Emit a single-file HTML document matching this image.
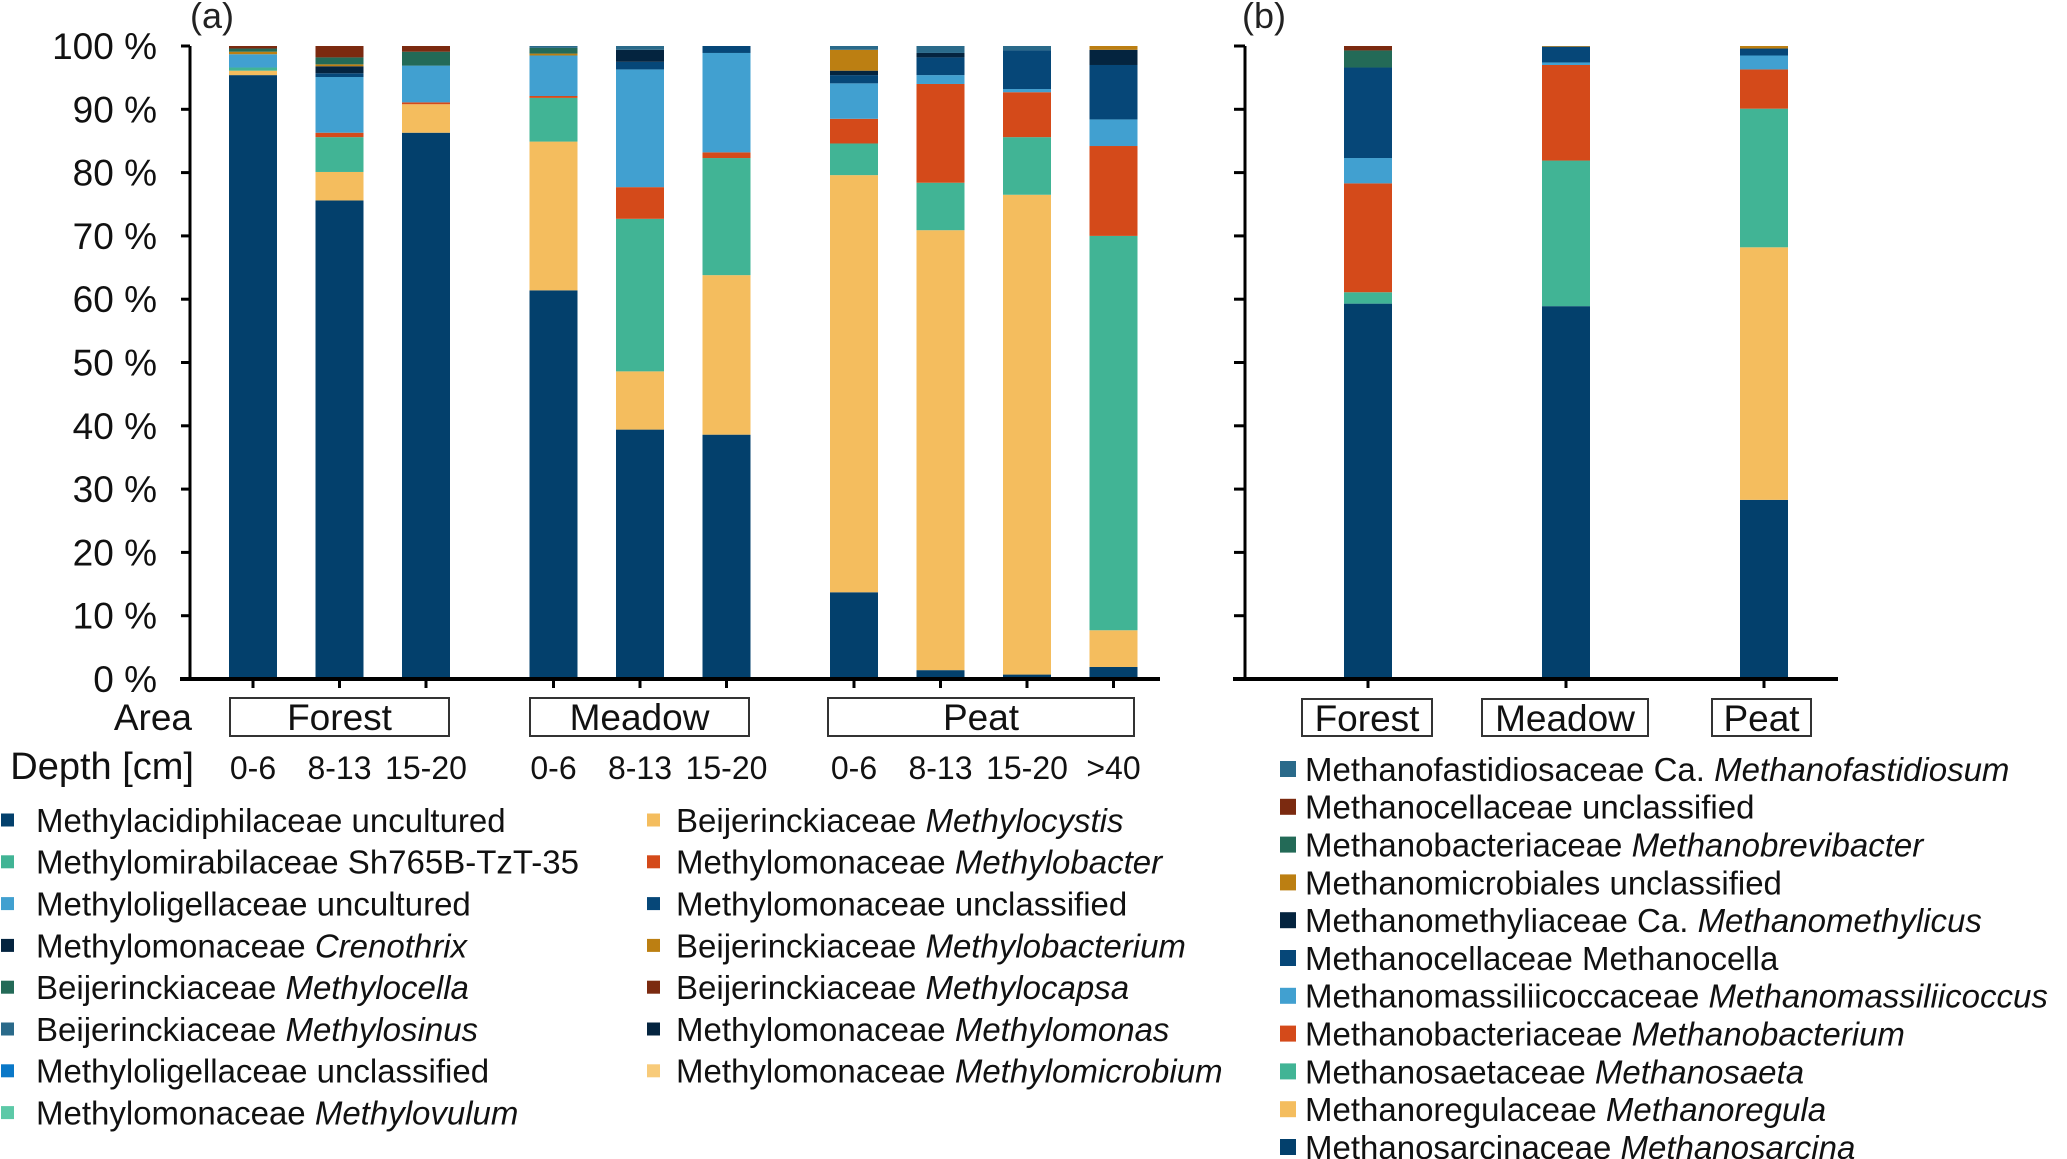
<!DOCTYPE html>
<html><head><meta charset="utf-8"><style>
html,body{margin:0;padding:0;background:#fff;}
svg{display:block;font-family:"Liberation Sans",Arial,sans-serif;}
</style></head><body>
<svg id="chart" width="2067" height="1159" viewBox="0 0 2067 1159">
<g id="ga"></g>
<g id="gb"></g>
<g id="lg"></g>
</svg>
<script>
const NS="http://www.w3.org/2000/svg";
// Panel A data
const aSamples=["F 0-6","F 8-13","F 15-20","M 0-6","M 8-13","M 15-20","P 0-6","P 8-13","P 15-20","P >40"];
const aDepths=["0-6","8-13","15-20","0-6","8-13","15-20","0-6","8-13","15-20",">40"];
const aColors=["#03406C","#F4BD5E","#41B495","#D44A1A","#41A0D0","#064778","#04243F","#BC7F12","#236A57","#7B2A10","#2A6A8A"];
const aS1=[95.4,75.6,86.3,61.4,39.4,38.6,13.7,1.4,0.7,1.9];
const aS2=[0.7,4.5,4.5,23.5,9.2,25.2,65.9,69.5,75.8,5.8];
const aS3=[0.5,5.5,0,6.9,24.1,18.5,5.0,7.5,9.1,62.3];
const aS4=[0,0.7,0.3,0.3,5.0,0.9,3.9,15.6,7.1,14.2];
const aS5=[2.1,8.8,5.8,6.4,18.6,15.7,5.6,1.4,0.5,4.2];
const aS6=[0,0.6,0,0,1.2,1.1,1.3,2.8,6.1,8.6];
const aS7=[0,1.1,0,0,1.9,0,0.7,0.7,0,2.4];
const aS8=[0.4,0.3,0,0.3,0,0,3.3,0,0,0.6];
const aS9=[0.5,1.1,2.2,0.9,0,0,0,0,0,0];
const aS10=[0.4,1.8,0.9,0,0,0,0,0,0,0];
const aS11=[0,0,0,0.3,0.6,0,0.6,1.1,0.7,0];
const aSeries=[aS1,aS2,aS3,aS4,aS5,aS6,aS7,aS8,aS9,aS10,aS11];
const aGroupIdx=[0,0,0,1,1,1,2,2,2,2];
// Panel B data
const bSamples=["Forest","Meadow","Peat"];
const bColors=["#03406C","#F4BD5E","#41B495","#D44A1A","#41A0D0","#064778","#04243F","#BC7F12","#236A57","#7B2A10","#2A6A8A"];
const bT1=[59.3,58.9,28.3];
const bT2=[0,0,39.9];
const bT3=[1.8,23.0,21.9];
const bT4=[17.2,15.1,6.2];
const bT5=[4.0,0.4,2.2];
const bT6=[14.3,2.5,1.1];
const bT7=[0,0,0];
const bT8=[0,0.1,0.4];
const bT9=[2.7,0,0];
const bT10=[0.7,0,0];
const bT11=[0,0,0];
const bSeries=[bT1,bT2,bT3,bT4,bT5,bT6,bT7,bT8,bT9,bT10,bT11];
const yTicks=[0,10,20,30,40,50,60,70,80,90,100];

const Y0=679,Y100=46;
function yS(v){return Y0-(Y0-Y100)*v/100;}
function el(tag,attrs,parent,txt){const e=document.createElementNS(NS,tag);for(const k in attrs)e.setAttribute(k,attrs[k]);if(txt!=null)e.textContent=txt;parent.appendChild(e);return e;}
const ga=document.getElementById('ga'),gb=document.getElementById('gb'),lg=document.getElementById('lg');

const aStart=253,aStep=86.5,aGap=41;
function xA(i){return aStart+i*aStep+aGroupIdx[i]*aGap;}
const bx0=1368,bStep=198;
function xB(i){return bx0+i*bStep;}
const BW=48;

function drawStacks(g,series,colors,n,xf,nm){
  for(let i=0;i<n;i++){
    let cum=0;
    for(let s=0;s<series.length;s++){
      const v=series[s][i]; if(!v)continue;
      const r=el('rect',{x:xf(i)-BW/2,y:yS(cum+v),width:BW,height:yS(cum)-yS(cum+v),fill:colors[s]},g);
      
      
      cum+=v;
    }
  }
}
drawStacks(ga,aSeries,aColors,aSamples.length,xA,'a');
drawStacks(gb,bSeries,bColors,bSamples.length,xB,'b');

// Axes A
el('line',{x1:190,y1:Y100,x2:190,y2:Y0+1,stroke:'#000','stroke-width':3},ga);
el('line',{x1:180,y1:Y0,x2:1160,y2:Y0,stroke:'#000','stroke-width':4},ga);
yTicks.forEach(t=>{
  el('line',{x1:181,y1:yS(t),x2:190,y2:yS(t),stroke:'#000','stroke-width':3},ga);
  const tx=el('text',{x:157,y:yS(t)+13,'font-size':37,'text-anchor':'end',fill:'#111'},ga,t+' %');
  
  
});
for(let i=0;i<aSamples.length;i++){
  el('line',{x1:xA(i),y1:Y0,x2:xA(i),y2:Y0+9,stroke:'#000','stroke-width':3},ga);
  const d=el('text',{x:xA(i),y:779,'font-size':32,'text-anchor':'middle',fill:'#111'},ga,aDepths[i]);
  
  
}
el('text',{x:190,y:28,'font-size':36,fill:'#222'},ga,'(a)');
el('text',{x:192,y:730,'font-size':37,'text-anchor':'end',fill:'#111'},ga,'Area');
el('text',{x:194,y:779,'font-size':38,'text-anchor':'end',fill:'#111'},ga,'Depth [cm]');
const aBoxes=[["Forest",230,449],["Meadow",530,749],["Peat",828,1134]];
aBoxes.forEach(b=>{
  el('rect',{x:b[1],y:698,width:b[2]-b[1],height:38,fill:'#fff',stroke:'#333','stroke-width':2},ga);
  el('text',{x:(b[1]+b[2])/2,y:730,'font-size':37,'text-anchor':'middle',fill:'#111'},ga,b[0]);
});

// Axes B
el('line',{x1:1245,y1:Y100,x2:1245,y2:Y0+1,stroke:'#000','stroke-width':3},gb);
el('line',{x1:1233,y1:Y0,x2:1838,y2:Y0,stroke:'#000','stroke-width':4},gb);
yTicks.forEach(t=>{el('line',{x1:1234,y1:yS(t),x2:1245,y2:yS(t),stroke:'#000','stroke-width':3},gb);});
const bBoxes=[[1302,1432],[1482,1648],[1712,1811]];
for(let i=0;i<bSamples.length;i++){
  el('line',{x1:xB(i),y1:Y0,x2:xB(i),y2:Y0+9,stroke:'#000','stroke-width':3},gb);
  el('rect',{x:bBoxes[i][0],y:699,width:bBoxes[i][1]-bBoxes[i][0],height:37,fill:'#fff',stroke:'#333','stroke-width':2},gb);
  const t=el('text',{x:(bBoxes[i][0]+bBoxes[i][1])/2,y:731,'font-size':37,'text-anchor':'middle',fill:'#111'},gb,bSamples[i]);
  
  
}
el('text',{x:1242,y:28,'font-size':36,fill:'#222'},gb,'(b)');

// Legends
const legL=[["#03406C","Methylacidiphilaceae uncultured",""],["#41B495","Methylomirabilaceae Sh765B-TzT-35",""],["#41A0D0","Methyloligellaceae uncultured",""],["#04243F","Methylomonaceae ","Crenothrix"],["#236A57","Beijerinckiaceae ","Methylocella"],["#2A6A8A","Beijerinckiaceae ","Methylosinus"],["#0A78C8","Methyloligellaceae unclassified",""],["#5CC9A7","Methylomonaceae ","Methylovulum"]];
const legM=[["#F4BD5E","Beijerinckiaceae ","Methylocystis"],["#D44A1A","Methylomonaceae ","Methylobacter"],["#064778","Methylomonaceae unclassified",""],["#BC7F12","Beijerinckiaceae ","Methylobacterium"],["#7B2A10","Beijerinckiaceae ","Methylocapsa"],["#04243F","Methylomonaceae ","Methylomonas"],["#F8CB7A","Methylomonaceae ","Methylomicrobium"]];
const legR=[["#2A6A8A","Methanofastidiosaceae Ca. ","Methanofastidiosum"],["#7B2A10","Methanocellaceae unclassified",""],["#236A57","Methanobacteriaceae ","Methanobrevibacter"],["#BC7F12","Methanomicrobiales unclassified",""],["#04243F","Methanomethyliaceae Ca. ","Methanomethylicus"],["#064778","Methanocellaceae Methanocella",""],["#41A0D0","Methanomassiliicoccaceae ","Methanomassiliicoccus"],["#D44A1A","Methanobacteriaceae ","Methanobacterium"],["#41B495","Methanosaetaceae ","Methanosaeta"],["#F4BD5E","Methanoregulaceae ","Methanoregula"],["#03406C","Methanosarcinaceae ","Methanosarcina"]];
function legend(items,mx,tx,y0,dy,fs,ms){
  items.forEach((it,i)=>{
    const cy=y0+i*dy;
    const g=el('g',{},lg);
    
    
    el('rect',{x:mx,y:cy-ms/2,width:ms,height:ms,fill:it[0]},g);
    const t=el('text',{x:tx,y:cy+fs*0.36,'font-size':fs,fill:'#111'},g);
    el('tspan',{},t,it[1]);
    if(it[2])el('tspan',{'font-style':'italic'},t,it[2]);
  });
}
legend(legL,1,36,820,41.8,33,13);
legend(legM,647,676,820,41.8,33,13);
legend(legR,1280,1305,769,37.8,33,16);
</script>
</body></html>
